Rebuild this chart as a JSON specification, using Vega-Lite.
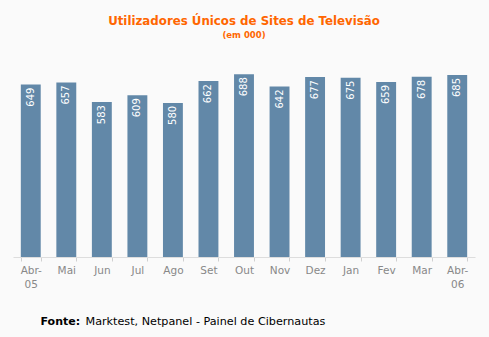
{
  "$schema": "https://vega.github.io/schema/vega-lite/v6.json",
  "autosize": {"type": "none"},
  "width": 462,
  "height": 186,
  "padding": {"left": 13, "top": 71, "right": 14, "bottom": 80},
  "background": "#fafafa",
  "title": {
    "text": "Utilizadores Únicos de Sites de Televisão",
    "subtitle": "(em 000)",
    "anchor": "middle",
    "frame": "group",
    "font": "DejaVu Sans",
    "fontSize": 11.8,
    "fontWeight": "bold",
    "color": "#ff6600",
    "subtitleFont": "DejaVu Sans",
    "subtitleFontSize": 8.5,
    "subtitleFontWeight": "bold",
    "subtitleColor": "#ff6600",
    "subtitlePadding": 3,
    "offset": 32
  },
  "data": {
    "values": [
      {"mes": "Abr-05", "valor": 649},
      {"mes": "Mai", "valor": 657},
      {"mes": "Jun", "valor": 583},
      {"mes": "Jul", "valor": 609},
      {"mes": "Ago", "valor": 580},
      {"mes": "Set", "valor": 662},
      {"mes": "Out", "valor": 688},
      {"mes": "Nov", "valor": 642},
      {"mes": "Dez", "valor": 677},
      {"mes": "Jan", "valor": 675},
      {"mes": "Fev", "valor": 659},
      {"mes": "Mar", "valor": 678},
      {"mes": "Abr-06", "valor": 685}
    ]
  },
  "encoding": {
    "x": {
      "field": "mes",
      "type": "ordinal",
      "sort": null,
      "scale": {"paddingInner": 0.44, "paddingOuter": 0.22},
      "axis": {
        "title": "Marktest, Netpanel - Painel de Cibernautas",
        "titleFont": "DejaVu Sans",
        "titleFontSize": 11.2,
        "titleFontWeight": "normal",
        "titleColor": "#000000",
        "titleAlign": "left",
        "titleAnchor": null,
        "titleBaseline": "alphabetic",
        "titleX": 72,
        "titleY": 67,
        "labelAngle": 0,
        "labelFont": "DejaVu Sans",
        "labelFontSize": 10.5,
        "labelColor": "#888888",
        "labelPadding": 4,
        "labelLineHeight": 14,
        "labelExpr": "length(datum.label) > 3 ? [slice(datum.label, 0, 4), slice(datum.label, 4)] : datum.label",
        "tickBand": "extent",
        "tickSize": 4,
        "tickColor": "#d0d0d0",
        "domainColor": "#dddddd",
        "grid": false
      }
    },
    "y": {
      "field": "valor",
      "type": "quantitative",
      "scale": {"domain": [0, 700]},
      "axis": {
        "title": "Fonte:",
        "titleFont": "DejaVu Sans",
        "titleFontSize": 11,
        "titleFontWeight": "bold",
        "titleColor": "#000000",
        "titleAngle": 0,
        "titleAlign": "left",
        "titleAnchor": null,
        "titleBaseline": "alphabetic",
        "titleX": 27,
        "titleY": 253,
        "labels": false,
        "ticks": false,
        "domain": false,
        "grid": false
      }
    }
  },
  "layer": [
    {"mark": {"type": "bar", "color": "#6288a8"}},
    {
      "mark": {
        "type": "text",
        "angle": 270,
        "align": "right",
        "baseline": "middle",
        "dx": -3,
        "color": "#ffffff",
        "font": "DejaVu Sans",
        "fontSize": 10
      },
      "encoding": {"text": {"field": "valor", "type": "quantitative"}}
    }
  ],
  "config": {"view": {"stroke": null}}
}
